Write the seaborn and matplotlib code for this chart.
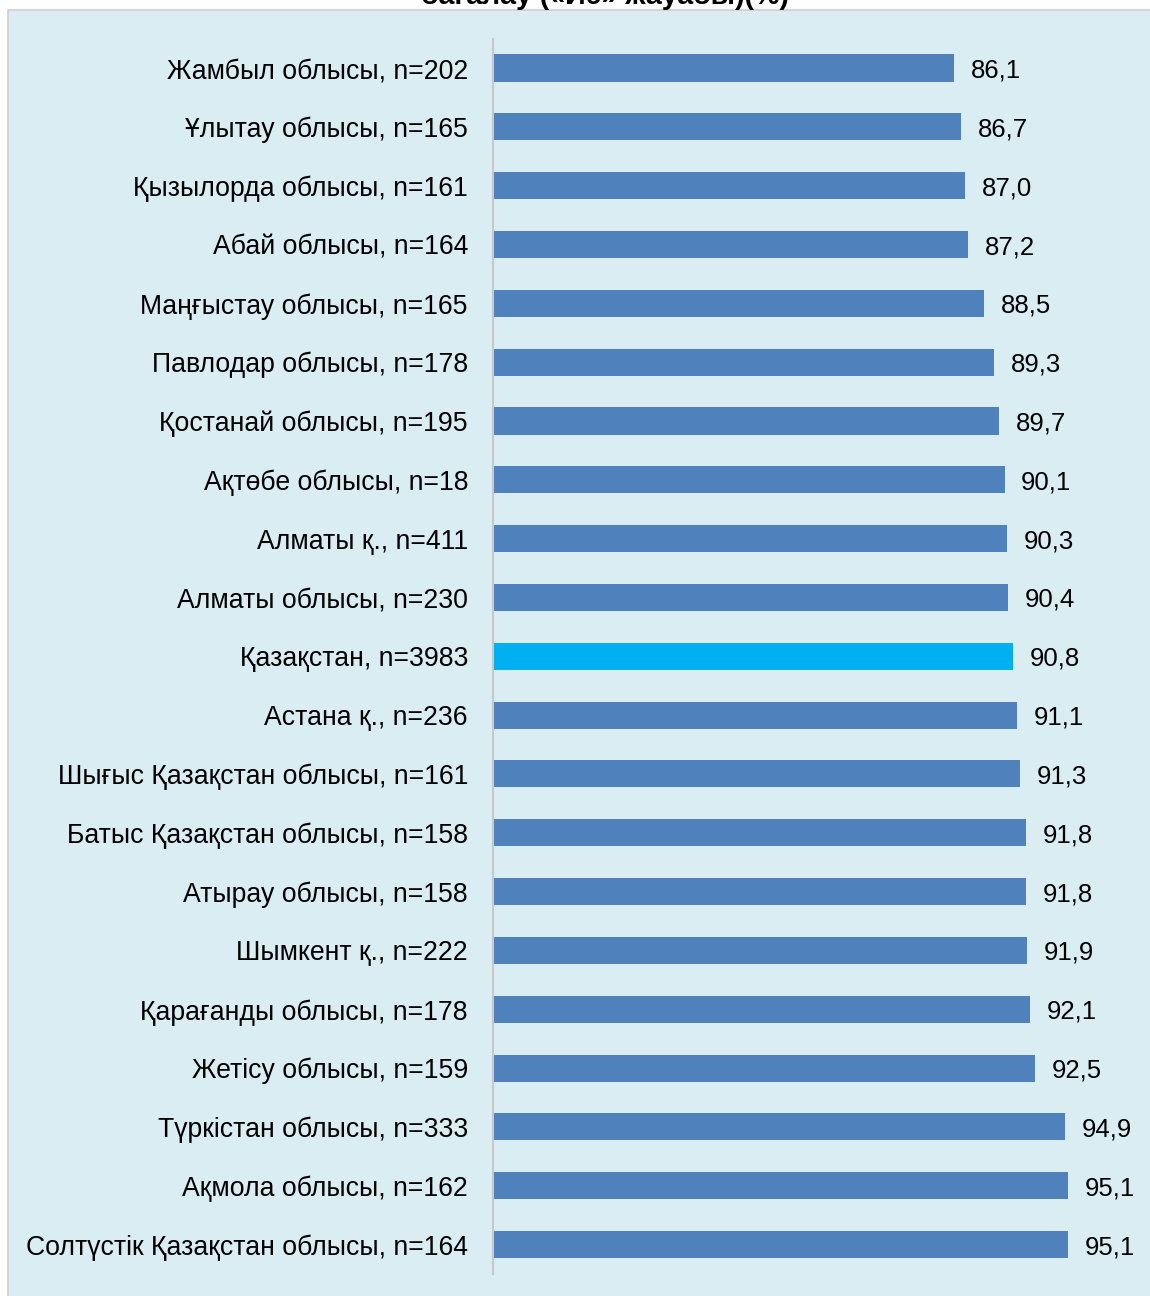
import matplotlib
matplotlib.use("Agg")
import matplotlib.pyplot as plt
import seaborn as sns
import pandas as pd
from matplotlib.patches import Rectangle

regions = [
    "Жамбыл облысы, n=202",
    "Ұлытау облысы, n=165",
    "Қызылорда облысы, n=161",
    "Абай облысы, n=164",
    "Маңғыстау облысы, n=165",
    "Павлодар облысы, n=178",
    "Қостанай облысы, n=195",
    "Ақтөбе облысы, n=18",
    "Алматы қ., n=411",
    "Алматы облысы, n=230",
    "Қазақстан, n=3983",
    "Астана қ., n=236",
    "Шығыс Қазақстан облысы, n=161",
    "Батыс Қазақстан облысы, n=158",
    "Атырау облысы, n=158",
    "Шымкент қ., n=222",
    "Қарағанды облысы, n=178",
    "Жетісу облысы, n=159",
    "Түркістан облысы, n=333",
    "Ақмола облысы, n=162",
    "Солтүстік Қазақстан облысы, n=164",
]
values = [86.1, 86.7, 87.0, 87.2, 88.5, 89.3, 89.7, 90.1, 90.3, 90.4, 90.8,
          91.1, 91.3, 91.8, 91.8, 91.9, 92.1, 92.5, 94.9, 95.1, 95.1]
highlight = "Қазақстан, n=3983"
title = "бағалау («Иә» жауабы)(%)"

BAR = "#4F81BD"
HL = "#00B0F0"
BG = "#DAEDF3"

sns.set_theme(style="white")
plt.rcParams["font.family"] = ["Liberation Sans", "DejaVu Sans"]

df = pd.DataFrame({"region": regions, "value": values})
palette = {r: (HL if r == highlight else BAR) for r in regions}

fig = plt.figure(figsize=(11.5, 12.96), dpi=100)
fig.patch.set_facecolor("white")

# light panel behind the chart
panel = Rectangle((8 / 1150, -0.01), 1.0, 1 - 10 / 1296 + 0.01,
                  transform=fig.transFigure, facecolor=BG,
                  edgecolor="#D0D0D0", linewidth=1.2, zorder=-10)
fig.patches.append(panel)

ax = fig.add_axes([493 / 1150, 1 - 1274 / 1296, (1140 - 493) / 1150, (1274 - 38.6) / 1296])
ax.set_facecolor("none")

sns.barplot(data=df, y="region", x="value", hue="region", palette=palette,
            order=regions, width=0.46, dodge=False, legend=False, ax=ax,
            saturation=1, linewidth=0)

ax.set_xlim(49.7, 100.8)
ax.set_ylim(len(regions) - 0.5, -0.5)
ax.set_xlabel("")
ax.set_ylabel("")
ax.set_xticks([])
for s in ["top", "right", "bottom"]:
    ax.spines[s].set_visible(False)
ax.spines["left"].set_color("#C8C8C8")
ax.spines["left"].set_linewidth(1.5)
ax.tick_params(axis="y", length=0, pad=18, labelsize=19.2, labelcolor="black")

for i, v in enumerate(values):
    ax.annotate(f"{v:.1f}".replace(".", ","), xy=(v, i), xytext=(12, 0),
                textcoords="offset points", va="center_baseline", ha="left",
                fontsize=18.5, color="black")

fig.text(605 / 1150, 1 - 4 / 1296, title, ha="center", va="baseline",
         fontsize=20.5, fontweight="bold", color="black")

fig.savefig("out.png", dpi=100, facecolor="white")
